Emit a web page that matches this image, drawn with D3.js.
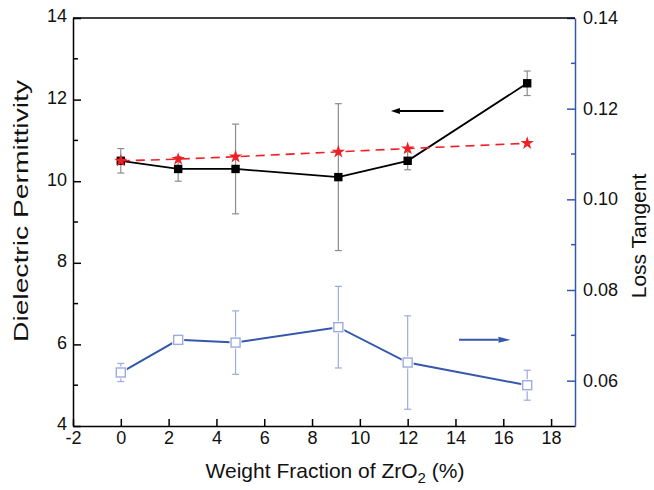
<!DOCTYPE html>
<html>
<head>
<meta charset="utf-8">
<script src="https://cdn.jsdelivr.net/npm/d3@7"></script>
<style>
  body { margin: 0; background: #fff; }
  text { font-family: "Liberation Sans", Arial, sans-serif; fill: #111; }
</style>
</head>
<body>
<div id="chart"></div>
<script>
// data
const wtFraction = [0, 2.4, 4.8, 9.1, 12, 17];
const permittivity = [10.5, 10.3, 10.3, 10.1, 10.5, 12.4];
const permittivityErr = [0.3, 0.3, 1.1, 1.8, 0.22, 0.3];
const permittivityModel = [10.5, 10.54, 10.6, 10.72, 10.8, 10.93];
const lossTangent = [0.0618, 0.069, 0.0684, 0.0718, 0.064, 0.059];
const lossTangentErr = [0.002, 0.0003, 0.007, 0.009, 0.0103, 0.0033];

const xTicks = [-2, 0, 2, 4, 6, 8, 10, 12, 14, 16, 18];
const leftTicks = [4, 6, 8, 10, 12, 14];
const leftMinor = [5, 7, 9, 11, 13];
const rightTicks = [0.06, 0.08, 0.10, 0.12, 0.14];
const rightMinor = [0.07, 0.09, 0.11, 0.13];

// arrows telling which axis a curve belongs to (data units)
const axisArrows = [
    { from: 13.5, to: 11.3, value: 11.72, side: 'left' },
    { from: 14.15, to: 16.3, value: 0.069, side: 'right' }
];

const width = 654, height = 490;
const margin = { left: 73, right: 79, top: 18, bottom: 64 };
const blue = '#3558ab';
const lightBlue = '#9dabe0';
const red = '#ee1f25';

const svg = d3.select('#chart').append('svg')
    .attr('width', width)
    .attr('height', height);

const x = d3.scaleLinear().domain([-2, 19])
    .range([margin.left, width - margin.right]);
const yL = d3.scaleLinear().domain([4, 14])
    .range([height - margin.bottom, margin.top]);
const yR = d3.scaleLinear().domain([0.05, 0.14])
    .range([height - margin.bottom, margin.top]);

const x0 = margin.left, x1 = width - margin.right;
const y0 = height - margin.bottom, y1 = margin.top;

//axes (plain hyphen for negatives, like the original)
const bottomAxis = svg.append('g')
    .attr('transform', 'translate(0,' + y0 + ')')
    .call(d3.axisBottom(x).tickValues(xTicks).tickSizeInner(-7).tickSizeOuter(0).tickPadding(5).tickFormat(d => String(d)));
bottomAxis.selectAll('text').style('font-size', '18px');

const leftAxis = svg.append('g')
    .attr('transform', 'translate(' + x0 + ',0)')
    .call(d3.axisLeft(yL).tickValues(leftTicks).tickSizeInner(-8).tickSizeOuter(0).tickPadding(6).tickFormat(d => String(d)));
leftAxis.selectAll('text').style('font-size', '18px').attr('dy', '0.22em');
leftAxis.append('g').selectAll('line').data(leftMinor).join('line')
    .attr('x1', 0).attr('x2', 5)
    .attr('y1', d => yL(d)).attr('y2', d => yL(d))
    .attr('stroke', '#000');

const rightAxis = svg.append('g')
    .attr('transform', 'translate(' + x1 + ',0)')
    .call(d3.axisRight(yR).tickValues(rightTicks).tickSizeInner(-8).tickSizeOuter(0).tickPadding(8).tickFormat(d3.format('.2f')));
rightAxis.selectAll('text').style('font-size', '18px').attr('dy', '0.3em');
rightAxis.selectAll('line, path').attr('stroke', blue).attr('stroke-width', 1.5);
rightAxis.append('g').selectAll('line').data(rightMinor).join('line')
    .attr('x1', 0).attr('x2', -4)
    .attr('y1', d => yR(d)).attr('y2', d => yR(d))
    .attr('stroke', blue).attr('stroke-width', 1.5);

[bottomAxis, leftAxis].forEach(a => a.selectAll('line, path').attr('stroke', '#000').attr('stroke-width', 1.5));

// top frame
svg.append('line')
    .attr('x1', x0).attr('x2', x1).attr('y1', y1).attr('y2', y1)
    .attr('stroke', '#000').attr('stroke-width', 1.5);

// axis titles
const xTitle = svg.append('text')
    .attr('x', 335).attr('y', 478)
    .attr('text-anchor', 'middle')
    .style('font-size', '21px');
xTitle.append('tspan').text('Weight Fraction of ZrO');
xTitle.append('tspan').attr('dy', 5).style('font-size', '15px').text('2');
xTitle.append('tspan').attr('dy', -5).text(' (%)');

svg.append('text')
    .attr('transform', 'translate(28,' + 211 + ') rotate(-90)')
    .attr('text-anchor', 'middle')
    .attr('textLength', 262)
    .attr('lengthAdjust', 'spacingAndGlyphs')
    .style('font-size', '21px')
    .text('Dielectric Permittivity');

svg.append('text')
    .attr('transform', 'translate(646,' + 236 + ') rotate(-90)')
    .attr('text-anchor', 'middle')
    .style('font-size', '21px')
    .text('Loss Tangent');

// error bars
function errorBars(g, vals, errs, yScale, color) {
    const bars = g.append('g').selectAll('g').data(wtFraction).join('g');
    bars.append('line')
        .attr('x1', d => x(d)).attr('x2', d => x(d))
        .attr('y1', (d, i) => yScale(vals[i] - errs[i]))
        .attr('y2', (d, i) => yScale(vals[i] + errs[i]));
    [-1, 1].forEach(s => {
        bars.append('line')
            .attr('x1', d => x(d) - 3.5).attr('x2', d => x(d) + 3.5)
            .attr('y1', (d, i) => yScale(vals[i] + s * errs[i]))
            .attr('y2', (d, i) => yScale(vals[i] + s * errs[i]));
    });
    bars.selectAll('line').attr('stroke', color).attr('stroke-width', 1.2);
}

const plot = svg.append('g');

errorBars(plot, lossTangent, lossTangentErr, yR, lightBlue);
errorBars(plot, permittivity, permittivityErr, yL, '#8c8c8c');

// loss tangent series
const lossLine = d3.line()
    .x((d, i) => x(wtFraction[i]))
    .y(d => yR(d));
plot.append('path')
    .attr('d', lossLine(lossTangent))
    .attr('fill', 'none')
    .attr('stroke', blue)
    .attr('stroke-width', 2);
plot.append('g').selectAll('rect').data(lossTangent).join('rect')
    .attr('x', (d, i) => x(wtFraction[i]) - 6)
    .attr('y', d => yR(d) - 6)
    .attr('width', 12).attr('height', 12)
    .attr('fill', '#fff');
plot.append('g').selectAll('rect').data(lossTangent).join('rect')
    .attr('x', (d, i) => x(wtFraction[i]) - 4.5)
    .attr('y', d => yR(d) - 4.5)
    .attr('width', 9).attr('height', 9)
    .attr('fill', '#fff')
    .attr('stroke', lightBlue)
    .attr('stroke-width', 1.4);

// permittivity series
const permLine = d3.line()
    .x((d, i) => x(wtFraction[i]))
    .y(d => yL(d));
plot.append('path')
    .attr('d', permLine(permittivity))
    .attr('fill', 'none')
    .attr('stroke', '#000')
    .attr('stroke-width', 1.8);
plot.append('g').selectAll('rect').data(permittivity).join('rect')
    .attr('x', (d, i) => x(wtFraction[i]) - 4.2)
    .attr('y', d => yL(d) - 4.2)
    .attr('width', 8.4).attr('height', 8.4)
    .attr('fill', '#000');

// model (stars, dashed)
plot.append('path')
    .attr('d', permLine(permittivityModel))
    .attr('fill', 'none')
    .attr('stroke', red)
    .attr('stroke-width', 1.6)
    .attr('stroke-dasharray', '9,6');
const star = d3.symbol().type(d3.symbolStar).size(55);
plot.append('g').selectAll('path').data(permittivityModel).join('path')
    .attr('transform', (d, i) => 'translate(' + x(wtFraction[i]) + ',' + yL(d) + ')')
    .attr('d', star)
    .attr('fill', red);

// arrows
axisArrows.forEach(a => {
    const yy = a.side === 'left' ? yL(a.value) : yR(a.value);
    const color = a.side === 'left' ? '#000' : blue;
    const dir = Math.sign(x(a.to) - x(a.from));
    const headLen = a.side === 'left' ? 9 : 12;
    const tip = x(a.to);
    svg.append('line')
        .attr('x1', x(a.from)).attr('x2', tip - dir * headLen)
        .attr('y1', yy).attr('y2', yy)
        .attr('stroke', color).attr('stroke-width', 2);
    svg.append('path')
        .attr('d', 'M' + tip + ',' + yy +
            'L' + (tip - dir * headLen) + ',' + (yy - 3) +
            'L' + (tip - dir * headLen) + ',' + (yy + 3) + 'Z')
        .attr('fill', color);
});
</script>
</body>
</html>
